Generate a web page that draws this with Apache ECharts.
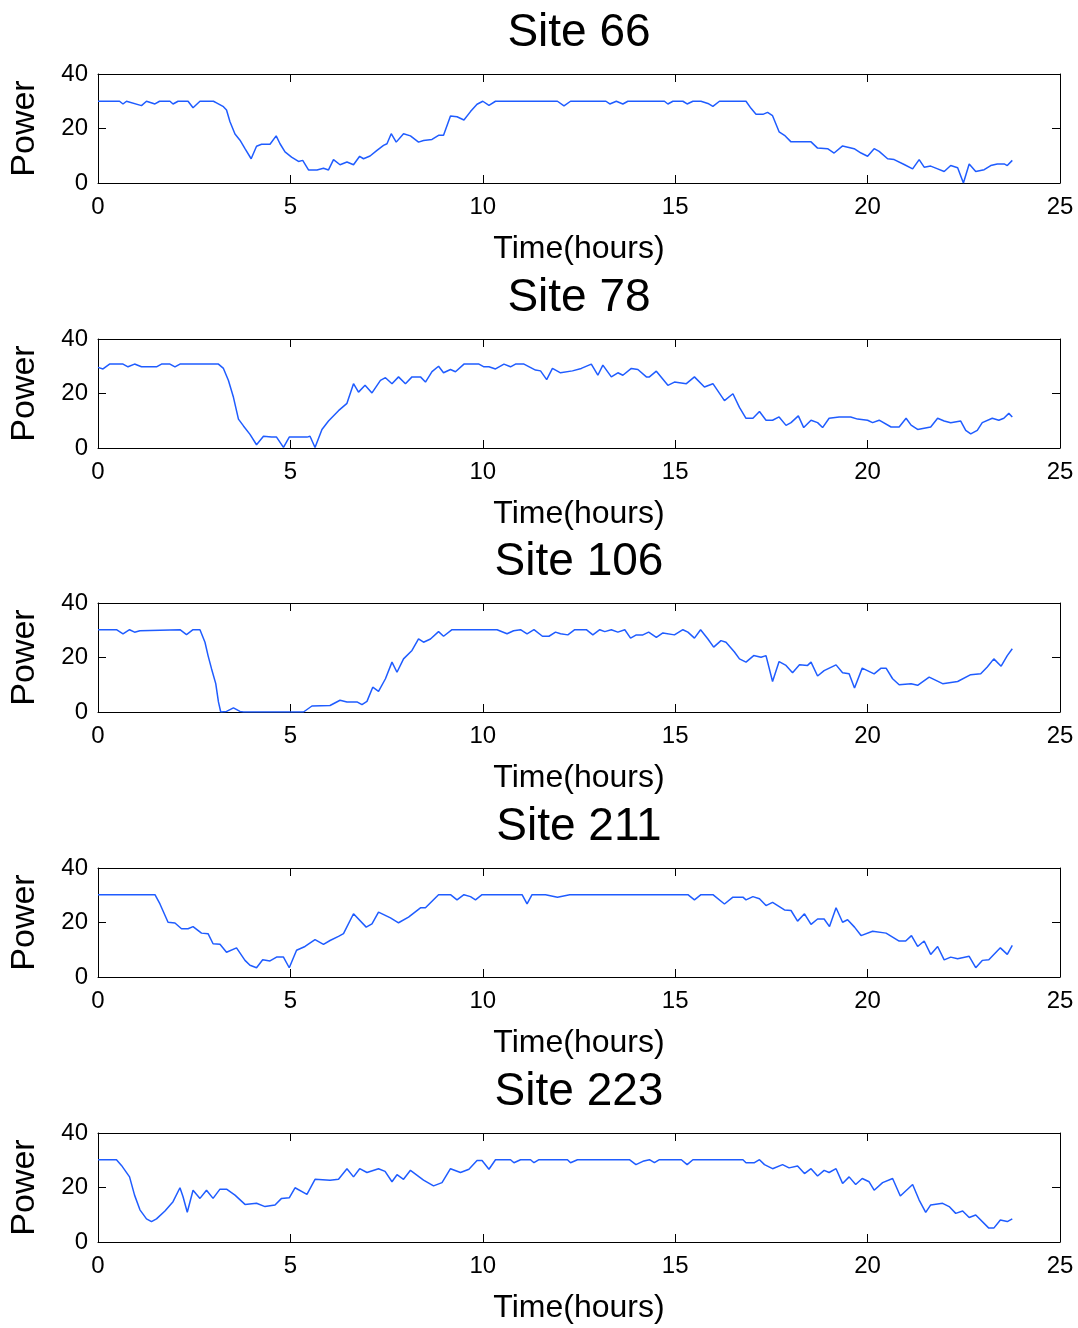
<!DOCTYPE html>
<html>
<head>
    <meta charset="utf-8">
    <title>Site power</title>
    <script src="https://cdn.jsdelivr.net/npm/echarts@6/dist/echarts.min.js"></script>
</head>
<body style="margin:0;background:#fff;">
    <div id="main" style="width:1078px;height:1328px;"></div>
    <script type="text/javascript">
        // [time (hours), power]
        var site66 = [[0,30],[0.56,30],[0.65,29],[0.74,30],[1.13,28.4],[1.26,30],[1.48,29],[1.6,30],[1.87,30],[1.95,29],[2.08,30],[2.34,30],[2.47,27.6],[2.65,30],[3.0,30],[3.08,29.4],[3.26,28],[3.34,26.8],[3.43,22.5],[3.56,18],[3.69,15.7],[3.82,12.6],[3.98,8.9],[4.12,13.5],[4.25,14.2],[4.47,14.2],[4.63,17.3],[4.73,14.4],[4.86,11.4],[5.03,9.5],[5.21,7.9],[5.32,8.3],[5.47,4.8],[5.69,4.8],[5.86,5.4],[5.99,4.8],[6.12,8.6],[6.29,6.7],[6.47,7.7],[6.64,6.7],[6.8,9.8],[6.9,8.9],[7.07,9.9],[7.25,12],[7.42,13.8],[7.51,14.4],[7.62,18.1],[7.75,15],[7.94,18.1],[8.12,17.3],[8.33,15],[8.46,15.6],[8.68,16],[8.85,17.5],[8.98,17.5],[9.16,24.6],[9.33,24.3],[9.51,23.1],[9.68,26.2],[9.85,28.9],[10.0,30],[10.16,28.5],[10.33,30],[11.94,30],[12.11,28.3],[12.28,30],[13.2,30],[13.3,29],[13.47,30],[13.64,29],[13.77,30],[14.72,30],[14.81,29],[14.94,30],[15.2,30],[15.31,29],[15.46,30],[15.67,30],[15.85,29.2],[15.98,28.1],[16.15,30],[16.84,30],[16.97,27.4],[17.1,25.2],[17.28,25.2],[17.4,25.9],[17.53,24.7],[17.7,18.8],[17.84,17.5],[18.01,15.1],[18.53,15.1],[18.7,12.8],[18.96,12.6],[19.13,11],[19.35,13.6],[19.65,12.6],[19.83,11],[20.0,9.8],[20.17,12.6],[20.3,11.6],[20.52,8.9],[20.69,8.6],[20.95,6.8],[21.17,5.2],[21.34,8.6],[21.47,5.8],[21.64,6.2],[21.82,5.2],[21.99,4.2],[22.16,6.4],[22.34,5.6],[22.49,0],[22.64,7],[22.81,4.2],[23.03,4.9],[23.2,6.4],[23.37,7],[23.55,7],[23.63,6.4],[23.76,8.3]];

        var site78 = [[0,29.6],[0.13,29],[0.3,30.8],[0.65,30.8],[0.78,29.8],[0.95,30.8],[1.13,29.8],[1.52,29.8],[1.65,30.8],[1.87,30.8],[2.0,29.8],[2.13,30.8],[3.13,30.8],[3.26,29.2],[3.39,24.8],[3.52,18.6],[3.65,10.6],[3.78,8.1],[3.95,5],[4.12,1.2],[4.3,4.3],[4.51,4],[4.64,4],[4.82,0.2],[4.97,4],[5.43,4],[5.51,4.3],[5.64,0.2],[5.82,6.8],[5.99,9.9],[6.25,13.7],[6.47,16.4],[6.64,23.6],[6.77,20.5],[6.94,23],[7.12,20.2],[7.34,24.8],[7.47,25.8],[7.64,23.6],[7.81,26.1],[7.99,23.6],[8.16,26.1],[8.38,26.1],[8.51,24.2],[8.68,28],[8.85,30],[8.98,27.6],[9.16,28.8],[9.29,28],[9.51,30.8],[9.9,30.8],[10.03,29.8],[10.16,29.8],[10.33,29],[10.55,30.8],[10.72,29.8],[10.85,30.8],[11.07,30.8],[11.37,28.6],[11.5,28.3],[11.66,25.1],[11.81,29.2],[12.02,27.6],[12.33,28.3],[12.56,29.2],[12.82,30.8],[12.99,26.7],[13.12,30.4],[13.34,26.1],[13.51,27.6],[13.64,26.7],[13.86,29.2],[14.03,28.8],[14.25,26.1],[14.33,26.1],[14.51,28.2],[14.81,23],[14.98,24.2],[15.29,23.6],[15.5,26.1],[15.76,22.4],[15.98,23.6],[16.28,17.4],[16.5,19.9],[16.67,14.9],[16.84,10.9],[17.02,10.9],[17.19,13.4],[17.36,10.2],[17.53,10.2],[17.7,11.4],[17.88,8.3],[18.01,9.3],[18.2,11.8],[18.34,7.5],[18.53,10.2],[18.7,9.3],[18.83,7.5],[19.0,10.9],[19.26,11.4],[19.56,11.4],[19.74,10.6],[20.0,10.2],[20.13,9.3],[20.3,10.2],[20.61,7.7],[20.82,7.7],[21.0,10.9],[21.13,8.4],[21.3,6.8],[21.64,7.7],[21.82,10.9],[21.99,9.9],[22.16,9.3],[22.42,9.9],[22.55,6.5],[22.68,5.2],[22.85,6.5],[22.98,9.3],[23.24,10.9],[23.41,10.2],[23.54,10.9],[23.67,12.7],[23.76,11.4]];

        var site106 = [[0,30.2],[0.48,30.2],[0.65,28.7],[0.82,30.2],[0.95,29.3],[1.09,29.8],[2.13,30.2],[2.3,28.4],[2.47,30.2],[2.65,30.2],[2.78,25.6],[2.86,20.7],[2.95,15.9],[3.06,10.4],[3.13,3.7],[3.19,0],[3.34,0.2],[3.52,1.5],[3.69,0.2],[3.78,0],[5.34,0],[5.56,2.2],[6.03,2.4],[6.29,4.3],[6.47,3.7],[6.73,3.7],[6.86,2.7],[6.99,3.9],[7.14,9.1],[7.29,7.6],[7.47,12.2],[7.64,18.3],[7.77,14.6],[7.94,19.5],[8.16,22.6],[8.33,26.8],[8.46,25.6],[8.64,26.8],[8.85,29.5],[8.98,27.8],[9.2,30.2],[10.37,30.2],[10.63,28.7],[10.8,29.8],[10.98,30.2],[11.15,28.7],[11.33,30.2],[11.55,27.8],[11.72,27.8],[11.89,29.3],[12.02,28.7],[12.21,28.3],[12.39,30.2],[12.69,30.2],[12.86,28.3],[13.04,30.2],[13.17,29.5],[13.34,30.2],[13.51,29.3],[13.69,30.2],[13.84,27.1],[13.99,28.3],[14.16,28.3],[14.31,29.3],[14.51,27.4],[14.68,29],[14.98,28.3],[15.2,30.2],[15.33,29.3],[15.5,27.1],[15.66,30.2],[15.85,26.8],[16.0,23.8],[16.19,26.2],[16.32,25.6],[16.54,22],[16.67,19.5],[16.84,18.3],[17.04,20.7],[17.23,20.1],[17.36,20.7],[17.53,11.2],[17.7,18.5],[17.88,17.1],[18.05,14.4],[18.23,17.3],[18.44,17.1],[18.53,18.3],[18.7,13.2],[18.87,15.2],[19.18,17.3],[19.35,14.4],[19.52,14],[19.66,8.8],[19.86,16.1],[20.17,14],[20.35,16.1],[20.48,16.1],[20.65,12.2],[20.82,10],[21.13,10.4],[21.3,9.8],[21.6,12.8],[21.95,10.4],[22.34,11.2],[22.68,13.7],[22.94,14],[23.11,16.5],[23.28,19.5],[23.47,16.8],[23.63,20.7],[23.76,23.2]];

        var site211 = [[0,30.2],[1.48,30.2],[1.61,26.8],[1.82,20.1],[2.0,19.8],[2.17,17.7],[2.34,17.7],[2.47,18.5],[2.69,16.1],[2.86,15.9],[2.99,12.2],[3.17,12],[3.34,9.1],[3.6,10.7],[3.82,6.1],[3.95,4.3],[4.12,3.4],[4.28,6.3],[4.47,5.9],[4.64,7.3],[4.82,7.3],[4.97,3.4],[5.16,9.8],[5.38,11.2],[5.64,13.7],[5.86,12],[6.03,13.4],[6.25,14.9],[6.38,15.9],[6.64,23.2],[6.97,18.3],[7.12,19.5],[7.29,23.8],[7.6,21.7],[7.81,19.9],[8.07,22],[8.38,25.4],[8.51,25.4],[8.85,30.2],[9.16,30.2],[9.33,28.3],[9.51,30.2],[9.68,29.5],[9.81,28.3],[9.98,30.2],[11.02,30.2],[11.15,26.8],[11.28,30.2],[11.63,30.2],[11.94,29.3],[12.26,30.2],[15.33,30.2],[15.5,28.3],[15.67,30.2],[15.98,30.2],[16.28,26.8],[16.5,29.3],[16.76,29.3],[16.84,28.3],[17.02,29.5],[17.19,28.7],[17.36,26.2],[17.53,27.4],[17.84,24.6],[18.01,24.4],[18.18,20.5],[18.36,23.2],[18.53,19.3],[18.7,21.3],[18.87,21.3],[19.01,18.5],[19.18,25.4],[19.35,20.1],[19.48,21],[19.66,18.3],[19.83,15.2],[20.13,16.8],[20.48,16.1],[20.82,13.2],[20.99,13.2],[21.14,15.2],[21.3,11.2],[21.47,13.2],[21.64,8.3],[21.82,11.2],[21.99,6.3],[22.16,7.3],[22.34,6.7],[22.64,7.6],[22.81,3.4],[22.98,6.1],[23.15,6.3],[23.45,10.7],[23.63,8.3],[23.76,11.6]];

        var site223 = [[0,30.2],[0.48,30.2],[0.61,28.1],[0.82,23.9],[0.95,17.2],[1.09,11.8],[1.26,8.5],[1.39,7.5],[1.52,8.5],[1.74,11.4],[1.95,14.8],[2.13,19.9],[2.21,16.6],[2.32,10.9],[2.47,19],[2.65,16],[2.82,19],[2.99,16],[3.17,19.4],[3.34,19.4],[3.56,17.2],[3.82,13.8],[4.12,14.2],[4.34,13],[4.6,13.6],[4.77,16],[4.97,16.2],[5.12,19.9],[5.43,17.5],[5.64,23],[6.03,22.7],[6.25,23],[6.47,26.9],[6.64,23.9],[6.8,26.9],[6.99,25.5],[7.29,26.9],[7.46,25.9],[7.64,22.1],[7.77,24.7],[7.94,23],[8.12,26.3],[8.46,22.7],[8.72,20.6],[8.94,21.8],[9.16,26.9],[9.42,25.5],[9.64,26.7],[9.85,29.9],[9.98,29.9],[10.16,26.7],[10.33,30.2],[10.72,30.2],[10.81,29.1],[10.98,30.2],[11.24,30.2],[11.33,29.1],[11.46,30.2],[12.2,30.2],[12.28,29.1],[12.46,30.2],[13.81,30.2],[13.98,28.4],[14.16,29.6],[14.33,30.2],[14.46,29.1],[14.59,30.2],[15.16,30.2],[15.31,28.4],[15.46,30.2],[16.76,30.2],[16.84,29.1],[17.06,29.1],[17.19,30.2],[17.32,28.4],[17.53,26.9],[17.79,28.4],[17.96,27.2],[18.18,27.9],[18.36,25.1],[18.53,26.9],[18.7,24.2],[18.87,26.3],[19.0,25.5],[19.18,26.9],[19.35,21.5],[19.52,23.9],[19.69,21.1],[19.86,23.3],[20.04,22.1],[20.17,19],[20.39,21.8],[20.65,23.3],[20.85,16.9],[21.17,21.1],[21.34,15.4],[21.51,10.9],[21.64,13.6],[21.95,14.2],[22.12,13],[22.29,10.5],[22.47,11.4],[22.64,9],[22.81,9.9],[23.15,5.1],[23.28,5.1],[23.45,8.1],[23.63,7.5],[23.76,8.5]];

        var siteNames = ['Site 66', 'Site 78', 'Site 106', 'Site 211', 'Site 223'];
        var siteData = [site66, site78, site106, site211, site223];
        var xTicks = { min: 0, max: 25, interval: 5 };
        var yTicks = { min: 0, max: 40, interval: 20 };

        /*---------- layout ----------*/
        var plotTops = [74, 339, 603, 868, 1133];
        var plotH = 109;
        var plotLeft = 98;
        var plotRight = 18;
        var font = 'Liberation Sans, Arial, sans-serif';

        var myChart = echarts.init(document.getElementById('main'));

        var grid = [], xAxis = [], yAxis = [], series = [], title = [];
        var lineSt = { color: '#000', width: 1 };

        siteNames.forEach(function (name, i) {
            grid.push({ left: plotLeft, right: plotRight, top: plotTops[i], height: plotH });
            title.push({
                text: name,
                left: plotLeft + (1078 - plotLeft - plotRight) / 2,
                textAlign: 'center',
                top: plotTops[i] - 64,
                padding: 0,
                textStyle: { fontFamily: font, fontSize: 46, fontWeight: 'normal', color: '#000' }
            });
            // bottom x axis with labels
            xAxis.push({
                type: 'value', gridIndex: i, position: 'bottom',
                min: xTicks.min, max: xTicks.max, interval: xTicks.interval,
                name: 'Time(hours)', nameLocation: 'middle', nameGap: 50,
                nameTextStyle: { fontFamily: font, fontSize: 32, color: '#000' },
                axisLine: { show: true, lineStyle: lineSt },
                axisTick: { show: true, inside: true, length: 8, lineStyle: lineSt },
                axisLabel: { fontFamily: font, fontSize: 24, color: '#000', margin: 12 },
                splitLine: { show: false }
            });
            // top x axis, ticks only
            xAxis.push({
                type: 'value', gridIndex: i, position: 'top',
                min: xTicks.min, max: xTicks.max, interval: xTicks.interval,
                axisLine: { show: true, onZero: false, lineStyle: lineSt },
                axisTick: { show: true, inside: true, length: 8, lineStyle: lineSt },
                axisLabel: { show: false },
                splitLine: { show: false }
            });
            yAxis.push({
                type: 'value', gridIndex: i, position: 'left',
                min: yTicks.min, max: yTicks.max, interval: yTicks.interval,
                name: 'Power', nameLocation: 'middle', nameGap: 56,
                nameTextStyle: { fontFamily: font, fontSize: 34, color: '#000' },
                axisLine: { show: true, lineStyle: lineSt },
                axisTick: { show: true, inside: true, length: 8, lineStyle: lineSt },
                axisLabel: { fontFamily: font, fontSize: 24, color: '#000', margin: 10 },
                splitLine: { show: false }
            });
            yAxis.push({
                type: 'value', gridIndex: i, position: 'right',
                min: yTicks.min, max: yTicks.max, interval: yTicks.interval,
                axisLine: { show: true, onZero: false, lineStyle: lineSt },
                axisTick: { show: true, inside: true, length: 8, lineStyle: lineSt },
                axisLabel: { show: false },
                splitLine: { show: false }
            });
            series.push({
                name: name,
                type: 'line',
                xAxisIndex: i * 2,
                yAxisIndex: i * 2,
                data: siteData[i],
                showSymbol: false,
                symbol: 'none',
                animation: false,
                lineStyle: { color: '#1f5cff', width: 1.5 }
            });
        });

        var option = {
            backgroundColor: '#fff',
            animation: false,
            title: title,
            grid: grid,
            xAxis: xAxis,
            yAxis: yAxis,
            series: series
        };
        myChart.setOption(option);
    </script>
</body>
</html>
